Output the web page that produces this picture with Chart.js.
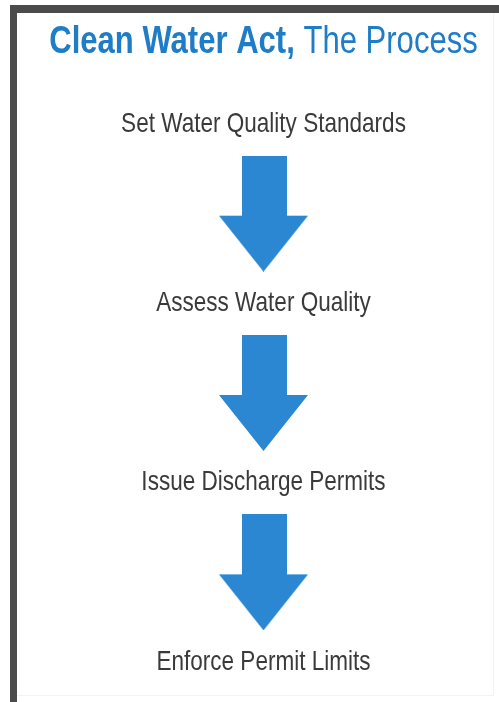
<!DOCTYPE html>
<html>
<head>
<meta charset="utf-8">
<script src="https://cdn.jsdelivr.net/npm/chart.js@4/dist/chart.umd.min.js"></script>
<style>
  html, body { margin: 0; padding: 0; background: #ffffff; }
  #wrap { position: relative; width: 499px; height: 702px; overflow: hidden; background: #fff; }
  #frameTop { position: absolute; left: 10px; top: 5px; width: 489px; height: 8px; background: #4b4b4b; }
  #frameLeft { position: absolute; left: 10px; top: 5px; width: 7px; height: 697px; background: #4b4b4b; }
  #frameRight { position: absolute; left: 493px; top: 13px; width: 1px; height: 683px; background: #f3f3f3; }
  #frameBottom { position: absolute; left: 17px; top: 695px; width: 476px; height: 1px; background: #f3f3f3; }
  canvas { position: absolute; left: 0; top: 0; }
</style>
</head>
<body>
<div id="wrap">
  <div id="frameTop"></div>
  <div id="frameLeft"></div>
  <div id="frameRight"></div>
  <div id="frameBottom"></div>
  <canvas id="c" width="499" height="702"></canvas>
</div>
<script>
// ---- data ----
const titleBold = "Clean Water Act,";
const titleRegular = "The Process";
const steps = [
  "Set Water Quality Standards",
  "Assess Water Quality",
  "Issue Discharge Permits",
  "Enforce Permit Limits"
];
const stepIndex = [0, 1, 2, 3];
const arrowIndex = [0.5, 1.5, 2.5];

// ---- styles ----
const BLUE = "#2b87d1";
const TITLE_BLUE = "#1f7cc7";
const TEXT = "#3a3a3a";
const FONT = '"Liberation Sans", Arial, sans-serif';
const LABEL_SQUEEZE = 0.805;   // emulate a condensed face
const TITLE_SQUEEZE = 0.817;

function makeArrow() {
  const w = 89, h = 116;
  const cv = document.createElement("canvas");
  cv.width = w; cv.height = h;
  const g = cv.getContext("2d");
  g.fillStyle = BLUE;
  g.beginPath();
  g.moveTo(23, 0);
  g.lineTo(68, 0);
  g.lineTo(68, 60);
  g.lineTo(89, 60);
  g.lineTo(44.5, 116);
  g.lineTo(0, 60);
  g.lineTo(23, 60);
  g.closePath();
  g.fill();
  return cv;
}
const arrowImg = makeArrow();

function squeezedText(ctx, text, x, y, align, sq) {
  ctx.save();
  ctx.translate(x, y);
  ctx.scale(sq, 1);
  ctx.textAlign = align;
  ctx.fillText(text, 0, 0);
  ctx.restore();
}

const labelPlugin = {
  id: "stepLabels",
  afterDatasetsDraw(chart) {
    const ctx = chart.ctx;
    const meta = chart.getDatasetMeta(0);
    ctx.save();
    ctx.fillStyle = TEXT;
    ctx.textBaseline = "middle";
    ctx.font = "28px " + FONT;
    meta.data.forEach((pt, i) => {
      squeezedText(ctx, steps[i], pt.x, pt.y, "center", LABEL_SQUEEZE);
    });
    // title
    const boldFont = "bold 38px " + FONT;
    const regFont = "38px " + FONT;
    ctx.font = boldFont;
    const wb = ctx.measureText(titleBold + " ").width * TITLE_SQUEEZE;
    ctx.font = regFont;
    const wr = ctx.measureText(titleRegular).width * TITLE_SQUEEZE;
    const cx = chart.scales.x.getPixelForValue(0);
    const x0 = cx - (wb + wr) / 2;
    ctx.fillStyle = TITLE_BLUE;
    ctx.font = boldFont;
    squeezedText(ctx, titleBold, x0, 43, "left", TITLE_SQUEEZE);
    ctx.font = regFont;
    squeezedText(ctx, titleRegular, x0 + wb, 43, "left", TITLE_SQUEEZE);
    ctx.restore();
  }
};

new Chart(document.getElementById("c"), {
  type: "scatter",
  data: {
    datasets: [
      {
        label: "steps",
        data: stepIndex.map(v => ({ x: 0, y: v })),
        pointRadius: 0,
        pointHoverRadius: 0
      },
      {
        label: "arrows",
        data: arrowIndex.map(v => ({ x: 0, y: v })),
        pointStyle: arrowImg,
        pointRadius: 10,
        clip: false
      }
    ]
  },
  options: {
    responsive: false,
    animation: false,
    events: [],
    layout: { padding: { left: 39, right: 0, top: 124, bottom: 40 } },
    scales: {
      x: { type: "linear", min: -1, max: 1, display: false },
      y: { type: "linear", min: 0, max: 3, reverse: true, display: false }
    },
    plugins: {
      legend: { display: false },
      tooltip: { enabled: false },
      title: { display: false }
    }
  },
  plugins: [labelPlugin]
});
</script>
</body>
</html>
